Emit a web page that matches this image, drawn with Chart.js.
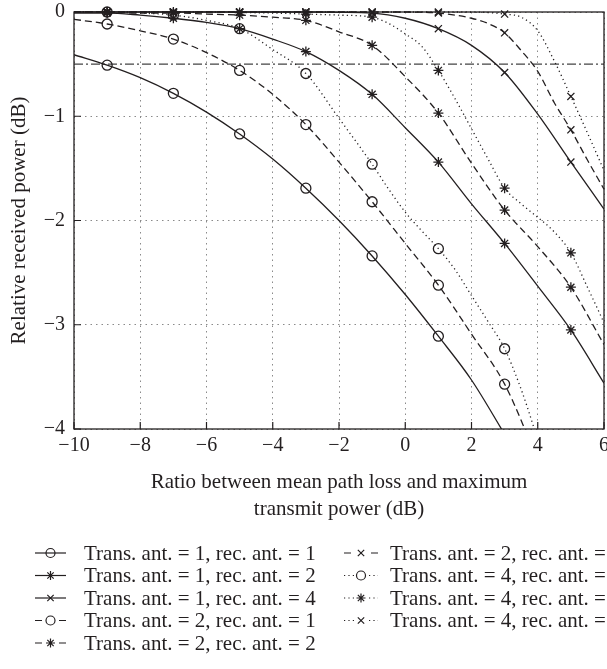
<!DOCTYPE html>
<html>
<head>
<meta charset="utf-8">
<script src="https://cdn.jsdelivr.net/npm/chart.js@4.4.0/dist/chart.umd.min.js"></script>
<style>
  html, body { margin: 0; padding: 0; background: #fff; }
</style>
</head>
<body>
<canvas id="powerChart" width="607" height="669"></canvas>
<script>
const xInt = [-10, -9, -8, -7, -6, -5, -4, -3, -2, -1, 0, 1, 2, 3, 4, 5, 6];

// relative received power (dB), one array per antenna configuration
const t1r1 = [-0.41, -0.51, -0.63, -0.78, -0.96, -1.17, -1.41, -1.69, -2.00, -2.34, -2.71, -3.11, -3.53, -4.05];
const t1r2 = [-0.01, -0.01, -0.03, -0.06, -0.10, -0.16, -0.26, -0.38, -0.56, -0.79, -1.11, -1.44, -1.84, -2.22, -2.63, -3.05, -3.56];
const t1r4 = [0, 0, 0, 0, 0, 0, 0, 0, -0.003, -0.01, -0.06, -0.16, -0.32, -0.58, -0.98, -1.44, -1.89];
const t2r1 = [-0.07, -0.115, -0.18, -0.26, -0.39, -0.56, -0.79, -1.08, -1.44, -1.82, -2.22, -2.62, -3.09, -3.57, -4.3];
const t2r2 = [0, 0, -0.01, -0.01, -0.02, -0.03, -0.05, -0.08, -0.19, -0.32, -0.62, -0.97, -1.45, -1.90, -2.25, -2.64, -3.19];

const t2r4X = [-10, -9, -8, -7, -6, -5, -4, -3, -2, -1, 0, 1, 2, 2.5, 3, 3.5, 4, 4.5, 5, 5.5, 6];
const t2r4 = [0, 0, 0, 0, 0, 0, 0, 0, 0, 0, 0, -0.01, -0.06, -0.11, -0.20, -0.37, -0.57, -0.87, -1.13, -1.42, -1.70];

const t4r1X = [-10, -9, -8, -7, -6, -5, -4, -3, -2, -1, -0.5, 0, 0.5, 1, 1.5, 2, 2.5, 3, 3.5, 4];
const t4r1 = [0, 0, -0.01, -0.03, -0.08, -0.16, -0.36, -0.59, -1.02, -1.46, -1.70, -1.92, -2.10, -2.27, -2.47, -2.72, -2.97, -3.23, -3.62, -4.1];

const t4r2X = [-10, -9, -8, -7, -6, -5, -4, -3, -2, -1, -0.5, 0, 0.5, 1, 1.5, 2, 2.5, 3, 3.5, 4, 4.5, 5, 5.5, 6];
const t4r2 = [0, 0, 0, 0, 0, -0.005, -0.01, -0.02, -0.03, -0.05, -0.11, -0.21, -0.33, -0.56, -0.83, -1.12, -1.41, -1.69, -1.84, -1.97, -2.11, -2.31, -2.64, -2.98];

const t4r4X = [-10, -9, -8, -7, -6, -5, -4, -3, -2, -1, 0, 1, 2, 2.5, 3, 3.5, 4, 4.5, 5, 5.5, 6];
const t4r4 = [0, 0, 0, 0, 0, 0, 0, 0, 0, 0, 0, 0, 0, -0.005, -0.02, -0.05, -0.18, -0.47, -0.81, -1.16, -1.52];

const thresholdLevel = -0.5;

const seriesLabels = [
    'Trans. ant. = 1, rec. ant. = 1',
    'Trans. ant. = 1, rec. ant. = 2',
    'Trans. ant. = 1, rec. ant. = 4',
    'Trans. ant. = 2, rec. ant. = 1',
    'Trans. ant. = 2, rec. ant. = 2',
    'Trans. ant. = 2, rec. ant. = 4',
    'Trans. ant. = 4, rec. ant. = 1',
    'Trans. ant. = 4, rec. ant. = 2',
    'Trans. ant. = 4, rec. ant. = 4'
];

const xTicks = [-10, -8, -6, -4, -2, 0, 2, 4, 6];
const yTicks = [-4, -3, -2, -1, 0];

const FONT = '"Liberation Serif", "Times New Roman", serif';
const INK = '#231f20';
const SOLID = [];
const DASHED = [7, 4];
const DOTTED = [1.2, 3.2];

function toPoints(xs, ys) {
    return ys.map((y, i) => ({ x: xs[i], y: y }));
}

// markers only at the odd x values, and only inside the plot
function markerRadius(ctx) {
    const p = ctx.raw;
    if (!p) return 0;
    const odd = Number.isInteger(p.x) && Math.abs(p.x % 2) === 1;
    return odd && p.y >= -4 ? 5 : 0;
}

function curve(label, xs, ys, dash, style) {
    return {
        label,
        data: toPoints(xs, ys),
        borderColor: INK,
        borderWidth: 1.3,
        borderDash: dash,
        pointStyle: style,
        pointRadius: markerRadius,
        pointHoverRadius: markerRadius,
        pointBorderColor: INK,
        pointBackgroundColor: 'rgba(0,0,0,0)',
        pointBorderWidth: 1.3,
        cubicInterpolationMode: 'monotone',
        fill: false,
        clip: { left: 0, top: 10, right: 0, bottom: 0 }
    };
}

const datasets = [
    curve(seriesLabels[0], xInt, t1r1, SOLID, 'circle'),
    curve(seriesLabels[1], xInt, t1r2, SOLID, 'star'),
    curve(seriesLabels[2], xInt, t1r4, SOLID, 'crossRot'),
    curve(seriesLabels[3], xInt, t2r1, DASHED, 'circle'),
    curve(seriesLabels[4], xInt, t2r2, DASHED, 'star'),
    curve(seriesLabels[5], t2r4X, t2r4, DASHED, 'crossRot'),
    curve(seriesLabels[6], t4r1X, t4r1, DOTTED, 'circle'),
    curve(seriesLabels[7], t4r2X, t4r2, DOTTED, 'star'),
    curve(seriesLabels[8], t4r4X, t4r4, DOTTED, 'crossRot'),
    {
        label: 'threshold',
        data: [{ x: xTicks[0], y: thresholdLevel }, { x: xTicks[xTicks.length - 1], y: thresholdLevel }],
        borderColor: '#444',
        borderWidth: 1.2,
        borderDash: [9, 3, 2, 3],
        pointRadius: 0,
        fill: false
    }
];

function minusSign(v) {
    return v < 0 ? '\u2212' + Math.abs(v) : String(v);
}

// legend sample: "—o—" for solid, "-o-" for dashed, "··o··" for dotted
function drawSample(ctx, ds, x0, x1, y) {
    const mid = (x0 + x1) / 2;
    ctx.lineWidth = 1.2;
    ctx.strokeStyle = INK;
    ctx.beginPath();
    if (ds.borderDash.length === 0) {
        ctx.setLineDash([]);
        ctx.moveTo(x0, y);
        ctx.lineTo(x1, y);
    } else if (ds.borderDash === DASHED) {
        ctx.setLineDash([]);
        ctx.moveTo(x0, y); ctx.lineTo(x0 + 7, y);
        ctx.moveTo(x1 - 7, y); ctx.lineTo(x1, y);
    } else {
        ctx.setLineDash(DOTTED);
        ctx.moveTo(x0, y); ctx.lineTo(mid - 7, y);
        ctx.moveTo(mid + 8, y); ctx.lineTo(x1, y);
    }
    ctx.stroke();
    ctx.setLineDash([]);
    ctx.fillStyle = 'rgba(0,0,0,0)';
    Chart.helpers.drawPoint(ctx, { pointStyle: ds.pointStyle, radius: 4.5, borderWidth: 1.2 }, mid, y);
}

// frame, inward ticks, axis titles and the two-column legend
const decorations = {
    id: 'decorations',
    afterDraw(chart) {
        const { ctx, chartArea: a, scales } = chart;
        ctx.save();
        ctx.strokeStyle = INK;
        ctx.lineWidth = 1.3;
        ctx.setLineDash([]);
        ctx.strokeRect(a.left, a.top, a.right - a.left, a.bottom - a.top);

        ctx.lineWidth = 1.2;
        ctx.beginPath();
        xTicks.forEach(v => {
            const px = scales.x.getPixelForValue(v);
            ctx.moveTo(px, a.bottom);
            ctx.lineTo(px, a.bottom - 7);
        });
        yTicks.forEach(v => {
            const py = scales.y.getPixelForValue(v);
            ctx.moveTo(a.left, py);
            ctx.lineTo(a.left + 7, py);
        });
        ctx.stroke();

        ctx.fillStyle = INK;
        ctx.font = '21px ' + FONT;
        ctx.textAlign = 'center';
        ctx.textBaseline = 'middle';
        const cx = (a.left + a.right) / 2;
        ctx.fillText('Ratio between mean path loss and maximum', cx, 482);
        ctx.fillText('transmit power (dB)', cx, 509);

        ctx.save();
        ctx.translate(19, (a.top + a.bottom) / 2);
        ctx.rotate(-Math.PI / 2);
        ctx.fillText('Relative received power (dB)', 0, 0);
        ctx.restore();

        // legend
        ctx.textAlign = 'left';
        const cols = [
            { x0: 35, x1: 66, text: 84, items: [0, 1, 2, 3, 4] },
            { x0: 344, x1: 378, text: 390, items: [5, 6, 7, 8] }
        ];
        cols.forEach(col => {
            col.items.forEach((idx, row) => {
                const ds = datasets[idx];
                const y = 553 + row * 22.5;
                drawSample(ctx, ds, col.x0, col.x1, y);
                ctx.fillStyle = INK;
                ctx.font = '21px ' + FONT;
                ctx.fillText(ds.label, col.text, y + 1);
            });
        });
        ctx.restore();
    }
};

const chart = new Chart(document.getElementById('powerChart').getContext('2d'), {
    type: 'line',
    data: { datasets },
    options: {
        responsive: false,
        animation: false,
        layout: { padding: { top: 12, right: 3, left: 0, bottom: 0 } },
        plugins: {
            legend: { display: false },
            tooltip: { enabled: false }
        },
        scales: {
            x: {
                type: 'linear',
                min: -10,
                max: 6,
                afterBuildTicks: s => { s.ticks = xTicks.map(v => ({ value: v })); },
                afterFit: s => { s.height = 240; s.paddingLeft = 0; s.paddingRight = 0; },
                ticks: {
                    callback: minusSign,
                    font: { family: FONT, size: 20 },
                    color: INK,
                    padding: 5,
                    maxRotation: 0
                },
                grid: { color: '#8a8a8a', lineWidth: 1, drawTicks: false },
                border: { display: false, dash: [1.5, 4] }
            },
            y: {
                min: -4,
                max: 0,
                afterBuildTicks: s => { s.ticks = yTicks.map(v => ({ value: v })); },
                afterFit: s => { s.width = 74; s.paddingTop = 0; s.paddingBottom = 0; },
                ticks: {
                    callback: minusSign,
                    font: { family: FONT, size: 20 },
                    color: INK,
                    padding: 9
                },
                grid: { color: '#8a8a8a', lineWidth: 1, drawTicks: false },
                border: { display: false, dash: [1.5, 4] }
            }
        }
    },
    plugins: [decorations]
});
</script>
</body>
</html>
